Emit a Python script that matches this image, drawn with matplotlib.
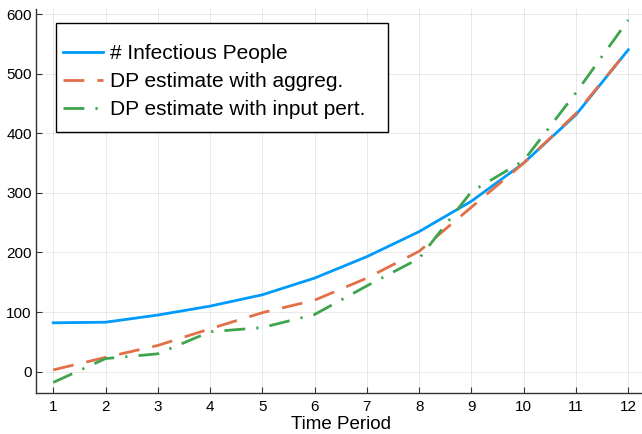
import matplotlib
matplotlib.use("Agg")
import matplotlib.pyplot as plt
from matplotlib.patches import Rectangle
from matplotlib.transforms import IdentityTransform

plt.rcParams["font.family"] = ["Liberation Sans", "DejaVu Sans"]

# values
periods = list(range(1, 13))
infectious = [82, 83, 95, 110, 129, 157, 193, 235, 286, 350, 431, 540]
dp_aggreg = [3, 24, 44, 72, 99, 120, 157, 202, 276, 350, 433, 540]
dp_input = [-18, 22, 30, 67, 74, 96, 144, 190, 302, 354, 468, 590]
xticks = periods
yticks = [0, 100, 200, 300, 400, 500, 600]

W, H = 642, 434
fig = plt.figure(figsize=(W / 100, H / 100), dpi=100)
ax = fig.add_axes([36 / W, (H - 393.3) / H, 609.5 / W, (393.3 - 9.1) / H])

ax.plot(periods, infectious, color="#009AFA", lw=2.0, label="# Infectious People")
ax.plot(periods, dp_aggreg, color="#E36F47", lw=2.0, dashes=(7.5, 4.7),
        label="DP estimate with aggreg.")
ax.plot(periods, dp_input, color="#3EA44E", lw=2.0, dashes=(7.5, 4, 0.8, 4),
        label="DP estimate with input pert.")

ax.set_xlim(0.67, 12.33)
ax.set_ylim(-36.24, 608.24)
ax.set_xticks(xticks)
ax.set_yticks(yticks)
ax.grid(True, color="black", alpha=0.1, lw=0.6)
ax.set_axisbelow(True)
for s in ("top", "right"):
    ax.spines[s].set_visible(False)
for s in ("left", "bottom"):
    ax.spines[s].set_color("#333333")
    ax.spines[s].set_linewidth(1.0)
ax.tick_params(direction="in", length=4, width=0.8, color="#333333",
               labelsize=11, pad=3)
ax.tick_params(axis="x", pad=5)
ax.set_xlabel("Time Period", fontsize=13.5, labelpad=1)

# legend without frame; box drawn by hand (more room above/right than the text needs)
leg = ax.legend(loc="upper left", bbox_to_anchor=(20 / 609.5, 1 - 28 / 384.2),
                fontsize=15, frameon=False, handlelength=1.92,
                handletextpad=0.34, borderpad=0.35, labelspacing=0.42,
                borderaxespad=0)
leg.set_zorder(5)
fig.canvas.draw()
bb = leg.get_window_extent()
ax.add_patch(Rectangle((bb.x0, bb.y0 - 6), bb.width + 15, bb.height + 20,
                       transform=IdentityTransform(), facecolor="white",
                       edgecolor="black", lw=1.0, zorder=4.9, clip_on=False))

fig.savefig("out.png", dpi=100)
